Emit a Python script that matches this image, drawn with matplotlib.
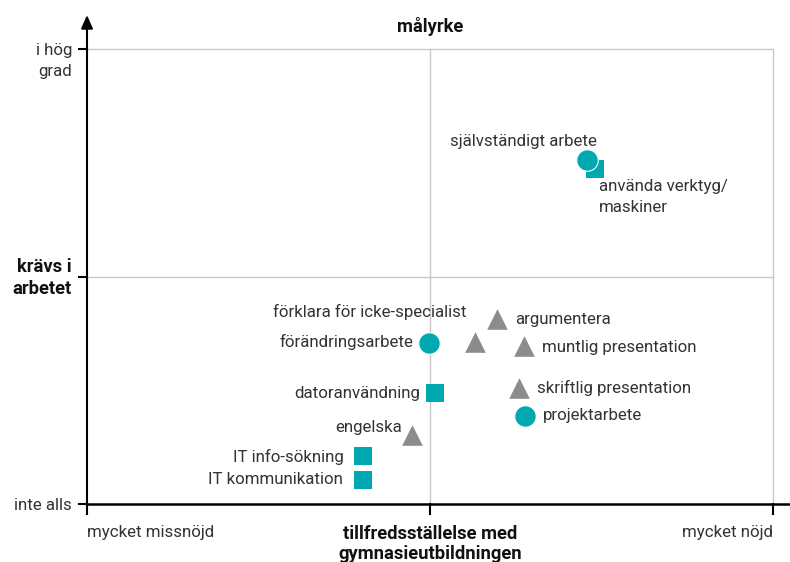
import matplotlib
matplotlib.use("Agg")
import matplotlib.pyplot as plt

plt.rcParams['font.family'] = ['Roboto', 'DejaVu Sans']

# ---- data ----
labels = ["självständigt arbete", "använda verktyg/\nmaskiner", "argumentera",
          "förklara för icke-specialist", "förändringsarbete", "muntlig presentation",
          "datoranvändning", "skriftlig presentation", "projektarbete", "engelska",
          "IT info-sökning", "IT kommunikation"]
satisfaction = [0.729, 0.741, 0.598, 0.566, 0.499, 0.637, 0.507, 0.630, 0.638, 0.474, 0.402, 0.402]
required = [0.756, 0.736, 0.407, 0.356, 0.354, 0.347, 0.244, 0.255, 0.193, 0.152, 0.105, 0.053]
kinds = ["circle", "square", "triangle", "triangle", "circle", "triangle",
         "square", "triangle", "circle", "triangle", "square", "square"]

y_tick_labels = ["inte alls", "krävs i\narbetet", "i hög\ngrad"]
x_tick_labels = ["mycket missnöjd", "tillfredsställelse med\ngymnasieutbildningen", "mycket nöjd"]
top_label = "målyrke"

# ---- layout/styles ----
W, H = 790, 562
TEAL = "#00a8b0"
GRAY = "#8c8c8c"
TXT = "#333333"
GRID = "#c8c8c8"
marker_style = {"circle": dict(marker="o", s=240, color=TEAL, zorder=5),
                "square": dict(marker="s", s=175, color=TEAL, zorder=4),
                "triangle": dict(marker="^", s=220, color=GRAY, zorder=4)}
# label offsets in pixels (dx, dy upward) and alignment
label_pos = [(10, 19, "right"), (4, -28, "left"), (18, -1, "left"),
             (-9, 30, "right"), (-16, 1, "right"), (18, -1, "left"),
             (-15, -1, "right"), (18, 0, "left"), (18, 1, "left"),
             (-10, 7, "right"), (-19, -1, "right"), (-20, 0, "right")]

FS = 12.2
FSB = 13.2
LW = "normal"

fig = plt.figure(figsize=(W / 100, H / 100), dpi=100)
x0, x1 = 87, 790
y_bot, y_top = 504, 15
ax = fig.add_axes([x0 / W, (H - y_bot) / H, (x1 - x0) / W, (y_bot - y_top) / H])
ax.set_xlim(0, (x1 - x0) / 686)
ax.set_ylim(0, (y_bot - y_top) / 455)
ax.axis("off")

# grid lines
for v in (0.5, 1.0):
    ax.plot([v, v], [0, 1], color=GRID, lw=1, zorder=1)
    ax.plot([0, 1], [v, v], color=GRID, lw=1, zorder=1)

# axes
ax.annotate("", xy=(0, ax.get_ylim()[1]), xytext=(0, 0),
            arrowprops=dict(arrowstyle="-|>,head_length=0.8,head_width=0.35", color="black", lw=1.5,
                            shrinkA=0, shrinkB=0), zorder=6)
ax.plot([0, ax.get_xlim()[1]], [0, 0], color="black", lw=1.8, zorder=6, clip_on=False)
# ticks
for v in (0, 0.5, 1.0):
    ax.plot([-0.012, 0], [v, v], color="black", lw=1.5, clip_on=False, zorder=6)
    ax.plot([v, v], [0, -0.022], color="black", lw=1.5, clip_on=False, zorder=6)

# points
for xs, ys, k in zip(satisfaction, required, kinds):
    ax.scatter([xs], [ys], linewidths=0.8 if k == "circle" else 0,
               edgecolors="white", **marker_style[k])

for lab, xs, ys, (dx, dy, ha) in zip(labels, satisfaction, required, label_pos):
    ax.annotate(lab, (xs, ys), xytext=(dx, dy), textcoords="offset pixels",
                ha=ha, va="center", fontsize=FS, fontweight=LW, color=TXT, linespacing=1.45)

def fx(px):
    return px / W

def fy(py):
    return 1 - py / H

fig.text(fx(72), fy(505), y_tick_labels[0], ha="right", va="center", fontsize=FS,
         fontweight=LW, color=TXT)
fig.text(fx(72), fy(278), y_tick_labels[1], ha="right", va="center", fontsize=FSB, color="#111111",
         fontweight="bold", linespacing=1.3)
fig.text(fx(72), fy(61), y_tick_labels[2], ha="right", va="center", fontsize=FS, color=TXT,
         fontweight=LW, linespacing=1.55)
fig.text(fx(87), fy(532), x_tick_labels[0], ha="left", va="center", fontsize=FS,
         fontweight=LW, color=TXT)
fig.text(fx(430), fy(525), x_tick_labels[1], ha="center", va="top", fontsize=FSB, color="#111111",
         fontweight="bold", linespacing=1.15)
fig.text(fx(773), fy(532), x_tick_labels[2], ha="right", va="center", fontsize=FS,
         fontweight=LW, color=TXT)
fig.text(fx(430), fy(27), top_label, ha="center", va="center", fontsize=FSB, color="#111111",
         fontweight="bold")

fig.savefig("out.png", dpi=100)
